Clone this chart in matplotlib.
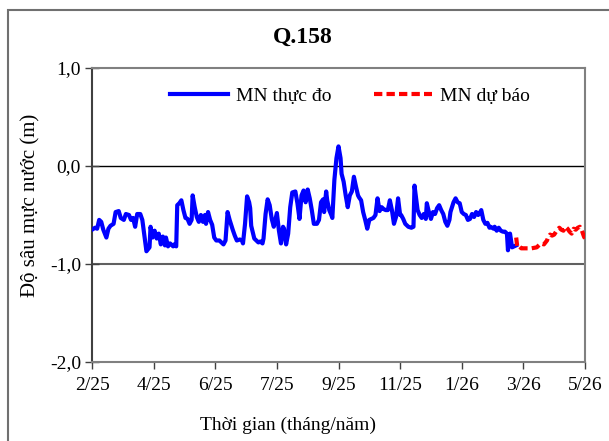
import numpy as np
import matplotlib
matplotlib.use("Agg")
import matplotlib.pyplot as plt
from matplotlib.patches import Rectangle

plt.rcParams['font.family'] = ['Liberation Serif', 'DejaVu Serif']

# days since start (2/25), observed depth (m)
obs_day = [0, 3, 5, 7, 9, 11, 14, 16, 18, 21, 23, 26, 28, 31, 33, 36, 38, 40, 42, 44,
           47, 49, 51, 53, 56, 57, 59, 61, 63, 65, 67, 69, 71, 72, 74, 76, 79, 80, 82, 83,
           85, 87, 89, 91, 93, 95, 97, 98, 100, 102, 104, 106, 108, 110, 111, 113, 115, 117, 119, 121,
           124, 126, 128, 130, 132, 134, 137, 139, 141, 144, 146, 147, 149, 151, 153, 154, 155, 158, 160, 162,
           164, 166, 167, 169, 171, 173, 175, 177, 180, 182, 184, 186, 187, 189, 191, 193, 195, 198, 200, 202,
           204, 206, 208, 210, 212, 214, 216, 219, 221, 223, 225, 226, 228, 229, 231, 233, 234, 236, 238, 240,
           242, 243, 245, 247, 249, 251, 253, 255, 257, 259, 260, 262, 264, 266, 268, 270, 272, 274, 276, 278,
           280, 282, 284, 286, 288, 290, 292, 294, 296, 298, 300, 301, 303, 305, 308, 311, 313, 314, 316, 317,
           319, 321, 323, 325, 326, 328, 330, 332, 334, 336, 338, 340, 342, 344, 346, 348, 349, 352, 354, 356,
           358, 360, 362, 364, 366, 368, 370, 372, 374, 376, 378, 379, 381, 383, 385, 387, 388, 391, 392, 394,
           396, 398, 400, 402, 404, 405, 406, 407, 409, 411, 413]
obs_val = [-0.65, -0.63, -0.64, -0.55, -0.57, -0.65, -0.73, -0.64, -0.61, -0.59, -0.47, -0.46, -0.53, -0.55, -0.49, -0.50, -0.55, -0.53, -0.62, -0.49,
           -0.49, -0.55, -0.71, -0.87, -0.83, -0.62, -0.73, -0.66, -0.74, -0.69, -0.80, -0.72, -0.81, -0.73, -0.82, -0.79, -0.82, -0.80, -0.82, -0.40,
           -0.38, -0.35, -0.45, -0.53, -0.54, -0.59, -0.55, -0.30, -0.42, -0.52, -0.57, -0.50, -0.57, -0.50, -0.59, -0.47, -0.55, -0.60, -0.73, -0.76,
           -0.76, -0.78, -0.80, -0.76, -0.47, -0.55, -0.65, -0.71, -0.76, -0.75, -0.76, -0.79, -0.59, -0.31, -0.37, -0.43, -0.61, -0.74, -0.76, -0.78,
           -0.77, -0.79, -0.74, -0.49, -0.34, -0.40, -0.54, -0.62, -0.48, -0.66, -0.79, -0.62, -0.64, -0.80, -0.69, -0.42, -0.27, -0.26, -0.38, -0.54,
           -0.30, -0.25, -0.37, -0.24, -0.33, -0.45, -0.59, -0.59, -0.55, -0.37, -0.34, -0.47, -0.26, -0.35, -0.45, -0.50, -0.53, -0.14, 0.08, 0.20,
           0.08, -0.08, -0.16, -0.30, -0.42, -0.30, -0.26, -0.11, -0.21, -0.30, -0.32, -0.35, -0.47, -0.55, -0.64, -0.55, -0.54, -0.53, -0.50, -0.33,
           -0.46, -0.42, -0.44, -0.45, -0.45, -0.35, -0.45, -0.59, -0.52, -0.33, -0.50, -0.50, -0.54, -0.59, -0.62, -0.63, -0.62, -0.20, -0.37, -0.45,
           -0.50, -0.53, -0.49, -0.54, -0.38, -0.47, -0.54, -0.47, -0.49, -0.43, -0.40, -0.45, -0.49, -0.57, -0.61, -0.55, -0.47, -0.37, -0.33, -0.37,
           -0.38, -0.47, -0.49, -0.50, -0.55, -0.54, -0.49, -0.52, -0.47, -0.50, -0.47, -0.45, -0.55, -0.59, -0.58, -0.63, -0.62, -0.64, -0.62, -0.66,
           -0.63, -0.66, -0.67, -0.67, -0.69, -0.86, -0.74, -0.69, -0.83, -0.82, -0.81]

# forecast
fc_day = [413, 414, 415, 418, 423, 428, 433, 437, 440, 443, 444, 446, 448, 450, 453, 455, 457, 459, 461,
          463, 465, 467, 469, 471, 473, 475, 477, 479, 480]
fc_val = [-0.73, -0.82, -0.81, -0.84, -0.84, -0.84, -0.83, -0.79, -0.80, -0.76, -0.73, -0.70, -0.71, -0.70, -0.65, -0.63, -0.65, -0.66, -0.62,
          -0.64, -0.67, -0.69, -0.64, -0.65, -0.63, -0.62, -0.66, -0.72, -0.74]

tick_days = [0, 60, 120, 180, 240, 300, 360, 420, 480]
tick_labels = ['2/25', '4/25', '6/25', '7/25', '9/25', '11/25', '1/26', '3/26', '5/26']
y_ticks = [1.0, 0.0, -1.0, -2.0]
y_labels = ['1,0', '0,0', '-1,0', '-2,0']

fig = plt.figure(figsize=(6.09, 4.41), dpi=100)
ax = fig.add_axes([92/609, 1-362/441, (585-92)/609, (362-68)/441])

# chart border
fig.patches.append(Rectangle((8/609, -0.1), 1.2, 1-10/441+0.1, transform=fig.transFigure,
                             fill=False, edgecolor='#707070', linewidth=1.5))

ax.axhline(0.0, color='black', lw=1.0, zorder=1)
ax.axhline(-1.0, color='#606060', lw=1.5, zorder=1)

ax.plot(obs_day, obs_val, color='#0000ff', lw=3, label='MN thực đo', zorder=3)
ax.plot(fc_day, fc_val, color='#ff0000', lw=3, linestyle=(0, (2, 1)), label='MN dự báo', zorder=3)

ax.set_xlim(0, 480)
ax.set_ylim(-2, 1)
ax.set_xticks(tick_days)
ax.set_xticklabels(tick_labels, fontsize=14)
ax.set_yticks(y_ticks)
ax.set_yticklabels(y_labels, fontsize=14)
ax.tick_params(axis='y', direction='inout', length=10, width=1, color='#404040', pad=3)
ax.tick_params(axis='x', direction='out', length=5, width=1, color='#404040', pad=6)

for s in ['top', 'right', 'bottom']:
    ax.spines[s].set_color('#808080')
    ax.spines[s].set_linewidth(1.5)
ax.spines['left'].set_color('#404040')
ax.spines['left'].set_linewidth(1.5)

ax.legend(loc='center', bbox_to_anchor=(0.523, 0.905), ncol=2, frameon=False,
          fontsize=14, handlelength=3.0, handletextpad=0.4, columnspacing=2.2)

fig.text(303/609, 1-37/441, 'Q.158', ha='center', va='center', fontsize=17, fontweight='bold')
fig.text(31/609, 1-205/441, 'Độ sâu mực nước (m)', rotation=90, ha='center', va='center', fontsize=15)
fig.text(288/609, 1-425/441, 'Thời gian (tháng/năm)', ha='center', va='center', fontsize=14)

fig.savefig('out.png', dpi=100)
